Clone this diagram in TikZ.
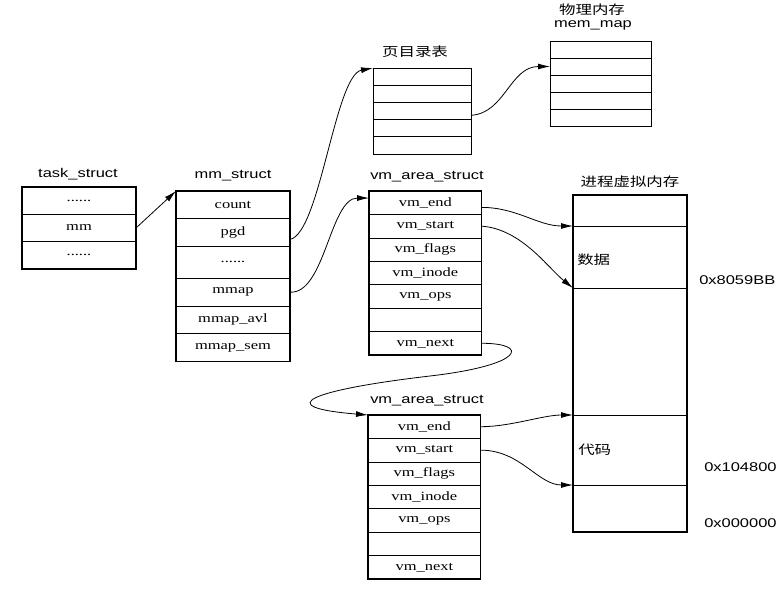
\documentclass[tikz,border=0pt]{standalone}
\usepackage{fontspec}
\setmainfont{Liberation Serif}
\newfontfamily\rowfont[FakeStretch=1.3]{Liberation Serif}
\newfontfamily\labfont[FakeStretch=1.3]{Liberation Sans}
\newfontfamily\cjk[FakeStretch=1.3]{Noto Sans CJK SC}
\usetikzlibrary{positioning,arrows.meta,calc}

\tikzset{
  cell/.style={draw, line width=0.5pt, inner sep=0pt, outer sep=0pt, font=\rowfont\fontsize{9.5}{11}\selectfont},
  taskcell/.style={cell, minimum width=85.5pt, minimum height=20.5pt},
  mmcell/.style={cell, minimum width=85.5pt, minimum height=20.75pt},
  vmcell/.style={cell, minimum width=84.5pt, minimum height=17.57pt},
  pgcell/.style={cell, minimum width=73.5pt, minimum height=12.9pt},
  memcell/.style={cell, minimum width=75.75pt, minimum height=12.75pt},
  segcell/.style={cell, minimum width=85.5pt},
  frame/.style={line width=1pt},
  title/.style={inner sep=0.75pt, font=\labfont\fontsize{9.5}{11}\selectfont},
  cntitle/.style={inner sep=0.75pt, font=\cjk\fontsize{9.5}{11}\selectfont},
  link/.style={line width=0.6pt, -{Latex[length=9pt,width=4.5pt]}},
}

\begin{document}
\begin{tikzpicture}[x=0.75pt,y=0.75pt,yscale=-1,xscale=1]
\useasboundingbox (0,0) rectangle (783,590);

%Shape: task_struct
\node[taskcell, anchor=north west] (tk1) at (22,187) {......};
\node[taskcell, below=0pt of tk1] (tk2) {mm};
\node[taskcell, below=0pt of tk2] (tk3) {......};
\draw[frame] (tk1.north west) rectangle (tk3.south east);

%Shape: mm_struct
\node[mmcell, anchor=north west] (mcount) at (176,191) {count};
\node[mmcell, below=0pt of mcount] (mpgd) {pgd};
\node[mmcell, minimum height=24pt, below=0pt of mpgd] (mdots) {......};
\node[mmcell, below=0pt of mdots] (mmmap) {mmap};
\node[mmcell, below=0pt of mmmap] (mavl) {mmap\_avl};
\node[mmcell, below=0pt of mavl] (msem) {mmap\_sem};
\draw[frame] (mcount.north west) rectangle (msem.south east);

%Shape: page table
\node[pgcell, anchor=north west] (pg1) at (373,68) {};
\node[pgcell, below=0pt of pg1] (pg2) {};
\node[pgcell, below=0pt of pg2] (pg3) {};
\node[pgcell, below=0pt of pg3] (pg4) {};
\node[pgcell, below=0pt of pg4] (pg5) {};

%Shape: mem_map
\node[memcell, anchor=north west] (mem1) at (550,41) {};
\node[memcell, below=0pt of mem1] (mem2) {};
\node[memcell, below=0pt of mem2] (mem3) {};
\node[memcell, below=0pt of mem3] (mem4) {};
\node[memcell, below=0pt of mem4] (mem5) {};

%Shape: vm_area_struct (first)
\node[vmcell, anchor=north west] (vend) at (369,191) {vm\_end};
\node[vmcell, below=0pt of vend] (vstart) {vm\_start};
\node[vmcell, below=0pt of vstart] (vflags) {vm\_flags};
\node[vmcell, below=0pt of vflags] (vinode) {vm\_inode};
\node[vmcell, below=0pt of vinode] (vops) {vm\_ops};
\node[vmcell, below=0pt of vops] (vblank) {};
\node[vmcell, below=0pt of vblank] (vnext) {vm\_next};
\draw[frame] (vend.north west) rectangle (vnext.south east);

%Shape: vm_area_struct (second)
\node[vmcell, anchor=north west] (wend) at (368,415) {vm\_end};
\node[vmcell, below=0pt of wend] (wstart) {vm\_start};
\node[vmcell, below=0pt of wstart] (wflags) {vm\_flags};
\node[vmcell, below=0pt of wflags] (winode) {vm\_inode};
\node[vmcell, below=0pt of winode] (wops) {vm\_ops};
\node[vmcell, below=0pt of wops] (wblank) {};
\node[vmcell, below=0pt of wblank] (wnext) {vm\_next};
\draw[frame] (wend.north west) rectangle (wnext.south east);

%Shape: process virtual memory
\node[segcell, minimum height=23.25pt, anchor=north west] (seg1) at (573,195) {};
\node[segcell, minimum height=46.5pt, below=0pt of seg1] (sdata) {};
\node[segcell, minimum height=95.25pt, below=0pt of sdata] (sgap) {};
\node[segcell, minimum height=52.5pt, below=0pt of sgap] (scode) {};
\node[segcell, minimum height=35.25pt, below=0pt of scode] (sbot) {};
\draw[frame] (seg1.north west) rectangle (sbot.south east);

% Text Node
\node[title] (ttask) at (78,174) {task\_struct};
% Text Node
\node[title] (tmm) at (233,176) {mm\_struct};
% Text Node
\node[cntitle] (tpg) at (415,52) {页目录表};
% Text Node
\node[cntitle] (tphys) at (592,10) {物理内存};
% Text Node
\node[title] (tmem) at (593,25) {mem\_map};
% Text Node
\node[title] (tvm1) at (427,177) {vm\_area\_struct};
% Text Node
\node[cntitle] (tvmem) at (630,182) {进程虚拟内存};
% Text Node
\node[title] (tvm2) at (427,401) {vm\_area\_struct};
% Text Node
\node[cntitle, anchor=west] (ldata) at (576,260) {数据};
% Text Node
\node[cntitle, anchor=west] (lcode) at (577,450) {代码};
% Text Node
\node[title, anchor=west] (a1) at (698,280) {0x8059BB};
% Text Node
\node[title, anchor=west] (a2) at (703,467) {0x104800};
% Text Node
\node[title, anchor=west] (a3) at (703,523) {0x000000};

%Connectors
\draw[link] (tk2.east) -- (mcount.north west);
\draw[link] ($(mpgd.east)!0.5!(mpgd.south east)$) .. controls +(30,-6) and +(-38,7) .. (pg1.north west);
\draw[link] ($(pg3.east)!0.5!(pg3.south east)$) .. controls +(34,-2) and +(-40,0) .. (mem2.west);
\draw[link] (mmmap.east) .. controls +(35,2) and +(-39,0) .. ($(vend.west)!0.4!(vend.north west)$);
\draw[link] ($(vend.east)!0.4!(vend.south east)$) .. controls +(35,0) and +(-35,0) .. (sdata.north west);
\draw[link] (vstart.east) .. controls +(40,3) and +(-25,-20) .. (sdata.south west);
\coordinate (loopmid) at (430,376);
\draw[link] (vnext.east) .. controls +(48,0) and +(95,-11) .. (loopmid) .. controls +(-120,14) and +(-98,-8) .. (wend.north west);
\draw[link] (wend.east) .. controls +(30,0) and +(-30,0) .. (scode.north west);
\draw[link] (wstart.east) .. controls +(40,0) and +(-35,0) .. (scode.south west);

\end{tikzpicture}
\end{document}
